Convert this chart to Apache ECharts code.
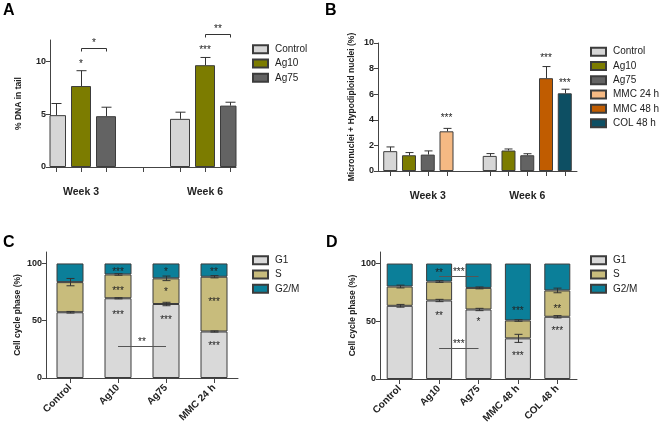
<!DOCTYPE html>
<html>
<head>
<meta charset="utf-8">
<title>Genotoxicity and cell cycle</title>
<script src="https://cdn.jsdelivr.net/npm/echarts@6/dist/echarts.min.js"></script>
<style>
html, body { margin: 0; padding: 0; background: #fff; }
#main { width: 660px; height: 427px; }
</style>
</head>
<body>
<div id="main"></div>
<script>
// ---- panel A : comet assay ----
var weeksA = ['Week 3', '', 'Week 6'];
var aControl = [4.9, null, 4.55];
var aControlErr = [1.1, null, 0.63];
var aAg10 = [7.65, null, 9.62];
var aAg10Err = [1.45, null, 0.73];
var aAg75 = [4.8, null, 5.8];
var aAg75Err = [0.85, null, 0.32];
var aStars = [[0, 1, 9.9, '*'], [2, 1, 11.2, '***']];          // [week, bar, y, text]
var aBrackets = [[0, 1, 2, 11.2, '*'], [2, 1, 2, 12.6, '**']];  // [week, from, to, y, text]

// ---- panel B : micronuclei ----
var weeksB = ['Week 3', 'Week 6'];
var bControl = [1.55, 1.18];
var bControlErr = [0.33, 0.18];
var bAg10 = [1.23, 1.6];
var bAg10Err = [0.21, 0.12];
var bAg75 = [1.28, 1.23];
var bAg75Err = [0.29, 0.12];
var bMMC24 = [3.1, null];
var bMMC24Err = [0.23, null];
var bMMC48 = [null, 7.25];
var bMMC48Err = [null, 0.91];
var bCOL48 = [null, 6.07];
var bCOL48Err = [null, 0.32];
var bStars = [[0, 3, 4.24, '***'], [1, 3, 8.95, '***'], [1, 4, 7.04, '***']];

// ---- panel C : cell cycle 24 h ----
var groupsC = ['Control', 'Ag10', 'Ag75', 'MMC 24 h'];
var cG1 = [57.4, 69.6, 64.6, 40.6];
var cG1Err = [0.7, 0.5, 1.5, 0.5];
var cS = [26.3, 20.8, 22.4, 47.8];
var cSErr = [3.2, 0.7, 2, 1];
var cG2M = [16.3, 9.6, 13, 11.6];
var cStars = [[1, 94.2, '***'], [1, 77.7, '***'], [1, 56.8, '***'],
              [2, 94.2, '*'], [2, 76.8, '*'], [2, 52.4, '***'],
              [3, 94.2, '**'], [3, 68.1, '***'], [3, 29.8, '***']];
var cLines = [[1, 2, 28.3, '**']];

// ---- panel D : cell cycle 48 h ----
var groupsD = ['Control', 'Ag10', 'Ag75', 'MMC 48 h', 'COL 48 h'];
var dG1 = [63.4, 68, 60.2, 35.2, 53.9];
var dG1Err = [1.2, 1, 1, 3.5, 1];
var dS = [16.7, 16.4, 18.7, 15.5, 22.8];
var dSErr = [1.2, 0.7, 0.8, 0.7, 2];
var dG2M = [19.9, 15.6, 21.1, 49.3, 23.3];
var dStars = [[1, 93.3, '**'], [1, 56.2, '**'], [2, 51, '*'],
              [3, 60.2, '***'], [3, 21.6, '***'], [4, 62.5, '**'], [4, 43.2, '***']];
var dLines = [[1, 2, 89.3, '***'], [1, 2, 27, '***']];

var FONT = 'Liberation Sans, Arial, sans-serif';
var INK = '#222';
var AXIS = '#444';
var BORDER = '#3c3c3c';
var COL = {
  control: '#d6d6d6', ag10: '#7c7c00', ag75: '#636363',
  mmc24: '#f5b983', mmc48: '#c05c00', col48: '#0d4f63',
  g1: '#d9d9d9', s: '#c8bc7c', g2m: '#0b7f99'
};

var chart = echarts.init(document.getElementById('main'));

function bar(name, data, color, xi, extra) {
  var s = {
    name: name, type: 'bar', data: data, xAxisIndex: xi, yAxisIndex: xi,
    itemStyle: { color: color, borderColor: BORDER, borderWidth: 1 },
    emphasis: { disabled: true }, animation: false
  };
  for (var k in extra) s[k] = extra[k];
  return s;
}

// error items for grouped panels: [cat, slot, mean, err]
function groupedErr(list) {
  var out = [];
  list.forEach(function (it) {
    it.vals.forEach(function (v, i) {
      if (v != null) out.push([i, it.slot, v, it.err[i]]);
    });
  });
  return out;
}

function groupedErrSeries(xi, data, nSlots, step, cap) {
  return {
    type: 'custom', xAxisIndex: xi, yAxisIndex: xi, z: 5, clip: false, silent: true,
    animation: false, data: data, encode: { x: 0, y: 2 },
    renderItem: function (params, api) {
      var cat = api.value(0), slot = api.value(1), m = api.value(2), e = api.value(3);
      var off = (slot - (nSlots - 1) / 2) * step;
      var p0 = api.coord([cat, m]), p1 = api.coord([cat, m + e]);
      var x = Math.round(p0[0] + off) + 0.5;
      var st = { stroke: '#333', lineWidth: 1 };
      return { type: 'group', children: [
        { type: 'line', shape: { x1: x, y1: p0[1], x2: x, y2: p1[1] }, style: st },
        { type: 'line', shape: { x1: x - cap / 2, y1: p1[1], x2: x + cap / 2, y2: p1[1] }, style: st }
      ] };
    }
  };
}

// tick marks under every bar of grouped panels: [cat, slot]
function tickSeries(xi, data, nSlots, step) {
  return {
    type: 'custom', xAxisIndex: xi, yAxisIndex: xi, z: 5, clip: false, silent: true,
    animation: false, data: data, encode: { x: 0 },
    renderItem: function (params, api) {
      var p = api.coord([api.value(0), 0]);
      var x = Math.round(p[0] + (api.value(1) - (nSlots - 1) / 2) * step) + 0.5;
      return { type: 'line', shape: { x1: x, y1: p[1], x2: x, y2: p[1] + 5 },
        style: { stroke: AXIS, lineWidth: 1 } };
    }
  };
}

function starText(x, y, t) {
  return { type: 'text', x: x, y: y + 2,
    style: { text: t, font: '10px ' + FONT, fill: INK, align: 'center', verticalAlign: 'middle' } };
}

function groupedStarSeries(xi, stars, brackets, nSlots, step) {
  var items = [];
  stars.forEach(function (s) { items.push([s[0], s[1], s[2], 0]); });
  brackets.forEach(function (b) { items.push([b[0], b[1], b[3], 1]); });
  return {
    type: 'custom', xAxisIndex: xi, yAxisIndex: xi, z: 6, clip: false, silent: true,
    animation: false, data: items, encode: { x: 0, y: 2 },
    renderItem: function (params, api) {
      var i = params.dataIndex;
      if (i < stars.length) {
        var s = stars[i];
        var p = api.coord([s[0], s[2]]);
        return starText(p[0] + (s[1] - (nSlots - 1) / 2) * step, p[1], s[3]);
      }
      var b = brackets[i - stars.length];
      var q = api.coord([b[0], b[3]]);
      var x1 = Math.round(q[0] + (b[1] - (nSlots - 1) / 2) * step) + 0.5;
      var x2 = Math.round(q[0] + (b[2] - (nSlots - 1) / 2) * step) + 0.5;
      var y = Math.round(q[1]) + 0.5;
      var st = { stroke: '#333', lineWidth: 1, fill: null };
      return { type: 'group', children: [
        { type: 'polyline', shape: { points: [[x1, y + 3], [x1, y], [x2, y], [x2, y + 3]] }, style: st },
        starText((x1 + x2) / 2, y - 7, b[4])
      ] };
    }
  };
}

// stacked panels: two-sided error bars at segment tops
function stackedErrSeries(xi, g1, g1e, s, se) {
  var data = [];
  g1.forEach(function (v, i) { data.push([i, v, g1e[i]]); });
  s.forEach(function (v, i) { data.push([i, g1[i] + v, se[i]]); });
  return {
    type: 'custom', xAxisIndex: xi, yAxisIndex: xi, z: 5, clip: false, silent: true,
    animation: false, data: data, encode: { x: 0, y: 1 },
    renderItem: function (params, api) {
      var c = api.value(0), m = api.value(1), e = api.value(2);
      var lo = api.coord([c, m - e]), hi = api.coord([c, m + e]);
      var x = Math.round(lo[0]) + 0.5;
      var st = { stroke: '#333', lineWidth: 1 };
      return { type: 'group', children: [
        { type: 'line', shape: { x1: x, y1: lo[1], x2: x, y2: hi[1] }, style: st },
        { type: 'line', shape: { x1: x - 4, y1: lo[1], x2: x + 4, y2: lo[1] }, style: st },
        { type: 'line', shape: { x1: x - 4, y1: hi[1], x2: x + 4, y2: hi[1] }, style: st }
      ] };
    }
  };
}

function stackedStarSeries(xi, stars, lines) {
  var items = [];
  stars.forEach(function (s) { items.push([s[0], s[1]]); });
  lines.forEach(function (l) { items.push([l[0], l[2]]); });
  return {
    type: 'custom', xAxisIndex: xi, yAxisIndex: xi, z: 6, clip: false, silent: true,
    animation: false, data: items, encode: { x: 0, y: 1 },
    renderItem: function (params, api) {
      var i = params.dataIndex;
      if (i < stars.length) {
        var s = stars[i];
        var p = api.coord([s[0], s[1]]);
        return starText(p[0], p[1], s[2]);
      }
      var l = lines[i - stars.length];
      var a = api.coord([l[0], l[2]]), b = api.coord([l[1], l[2]]);
      var y = Math.round(a[1]) + 0.5;
      return { type: 'group', children: [
        { type: 'line', shape: { x1: a[0], y1: y, x2: b[0], y2: y }, style: { stroke: '#555', lineWidth: 1 } },
        starText((a[0] + b[0]) / 2, y - 6, l[3])
      ] };
    }
  };
}

function xCat(gi, data, extra) {
  var ax = {
    type: 'category', gridIndex: gi, data: data,
    axisLine: { lineStyle: { color: AXIS, width: 1 } },
    axisTick: { show: false },
    axisLabel: { color: INK, fontFamily: FONT, fontWeight: 'bold', fontSize: 10.5, margin: 20 }
  };
  for (var k in extra) ax[k] = extra[k];
  return ax;
}

function yVal(gi, max, interval, name, gap, size) {
  return {
    type: 'value', gridIndex: gi, min: 0, max: max, interval: interval,
    name: name, nameLocation: 'middle', nameGap: gap,
    nameTextStyle: { color: INK, fontFamily: FONT, fontWeight: 'bold', fontSize: size },
    axisLine: { show: true, lineStyle: { color: AXIS, width: 1 } },
    axisTick: { show: true, length: 4, lineStyle: { color: AXIS } },
    axisLabel: { color: INK, fontFamily: FONT, fontWeight: 'bold', fontSize: 9, margin: 4,
      showMaxLabel: max % interval === 0 },
    splitLine: { show: false }
  };
}

function legend(left, top, names) {
  return {
    orient: 'vertical', left: left, top: top, data: names, padding: 0,
    itemWidth: 15, itemHeight: 8, itemGap: 0, selectedMode: false,
    icon: 'rect',
    textStyle: { color: INK, fontFamily: FONT, fontSize: 10, lineHeight: 14.3, padding: [0, 0, 0, 2] }
  };
}

function panelTitle(t, left, top) {
  return { text: t, left: left, top: top, padding: 0,
    textStyle: { color: '#000', fontFamily: FONT, fontWeight: 'bold', fontSize: 16 } };
}

var rotLabel = { color: INK, fontFamily: FONT, fontWeight: 'bold', fontSize: 10, rotate: 45, margin: 8, interval: 0 };

var aTicks = [];
[aControl, aAg10, aAg75].forEach(function (vals, slot) {
  vals.forEach(function (v, i) { if (v != null) aTicks.push([i, slot]); });
});
aTicks.push([1, 1]);
var bTicks = [];
[[bControl, 0], [bAg10, 1], [bAg75, 2], [bMMC24, 3], [bMMC48, 3], [bCOL48, 4]].forEach(function (p) {
  p[0].forEach(function (v, i) { if (v != null) bTicks.push([i, p[1]]); });
});
bTicks.push([0.5, 2]);

var option = {
  backgroundColor: '#fff',
  animation: false,
  textStyle: { fontFamily: FONT },
  title: [panelTitle('A', 3, 3), panelTitle('B', 325, 3), panelTitle('C', 3, 235), panelTitle('D', 326, 235)],
  legend: [
    legend(252, 42, ['Control', 'Ag10', 'Ag75']),
    legend(590, 44.5, ['Control', 'Ag10', 'Ag75', 'MMC 24 h', 'MMC 48 h', 'COL 48 h']),
    legend(252, 253, ['G1', 'S', 'G2/M']),
    legend(590, 253, ['G1', 'S', 'G2/M'])
  ],
  grid: [
    { left: 50, top: 40, width: 186, height: 127 },
    { left: 378, top: 43, width: 199, height: 128 },
    { left: 46, top: 252, width: 192, height: 126 },
    { left: 380, top: 252, width: 197, height: 127 }
  ],
  xAxis: [
    xCat(0, weeksA),
    xCat(1, weeksB),
    xCat(2, groupsC, { axisTick: { show: true, alignWithLabel: true, length: 5, lineStyle: { color: AXIS } }, axisLabel: rotLabel }),
    xCat(3, groupsD, { axisTick: { show: true, alignWithLabel: true, length: 5, lineStyle: { color: AXIS } }, axisLabel: rotLabel })
  ],
  yAxis: [
    yVal(0, 12, 5, '% DNA in tail', 27, 8.5),
    yVal(1, 10, 2, 'Micronuclei + Hypodiploid nuclei (%)', 22, 8.5),
    yVal(2, 110, 50, 'Cell cycle phase (%)', 24, 8.5),
    yVal(3, 110, 50, 'Cell cycle phase (%)', 22, 8.5)
  ],
  series: [
    bar('Control', aControl, COL.control, 0, { barWidth: 20, barGap: '25%' }),
    bar('Ag10', aAg10, COL.ag10, 0, { barWidth: 20, barGap: '25%' }),
    bar('Ag75', aAg75, COL.ag75, 0, { barWidth: 20, barGap: '25%' }),
    groupedErrSeries(0, groupedErr([
      { vals: aControl, err: aControlErr, slot: 0 },
      { vals: aAg10, err: aAg10Err, slot: 1 },
      { vals: aAg75, err: aAg75Err, slot: 2 }
    ]), 3, 25, 10),
    tickSeries(0, aTicks, 3, 25),
    groupedStarSeries(0, aStars, aBrackets, 3, 25),

    bar('Control', bControl, COL.control, 1, { barWidth: 14, barGap: '34%' }),
    bar('Ag10', bAg10, COL.ag10, 1, { barWidth: 14, barGap: '34%' }),
    bar('Ag75', bAg75, COL.ag75, 1, { barWidth: 14, barGap: '34%' }),
    bar('MMC 24 h', bMMC24, COL.mmc24, 1, { barWidth: 14, barGap: '34%', stack: 'mmc' }),
    bar('MMC 48 h', bMMC48, COL.mmc48, 1, { barWidth: 14, barGap: '34%', stack: 'mmc' }),
    bar('COL 48 h', bCOL48, COL.col48, 1, { barWidth: 14, barGap: '34%' }),
    groupedErrSeries(1, groupedErr([
      { vals: bControl, err: bControlErr, slot: 0 },
      { vals: bAg10, err: bAg10Err, slot: 1 },
      { vals: bAg75, err: bAg75Err, slot: 2 },
      { vals: bMMC24, err: bMMC24Err, slot: 3 },
      { vals: bMMC48, err: bMMC48Err, slot: 3 },
      { vals: bCOL48, err: bCOL48Err, slot: 4 }
    ]), 5, 18.76, 8),
    tickSeries(1, bTicks, 5, 18.76),
    groupedStarSeries(1, bStars, [], 5, 18.76),

    bar('G1', cG1, COL.g1, 2, { stack: 'c', barWidth: 27 }),
    bar('S', cS, COL.s, 2, { stack: 'c', barWidth: 27 }),
    bar('G2/M', cG2M, COL.g2m, 2, { stack: 'c', barWidth: 27 }),
    stackedErrSeries(2, cG1, cG1Err, cS, cSErr),
    stackedStarSeries(2, cStars, cLines),

    bar('G1', dG1, COL.g1, 3, { stack: 'd', barWidth: 26 }),
    bar('S', dS, COL.s, 3, { stack: 'd', barWidth: 26 }),
    bar('G2/M', dG2M, COL.g2m, 3, { stack: 'd', barWidth: 26 }),
    stackedErrSeries(3, dG1, dG1Err, dS, dSErr),
    stackedStarSeries(3, dStars, dLines)
  ]
};

chart.setOption(option);
</script>
</body>
</html>
